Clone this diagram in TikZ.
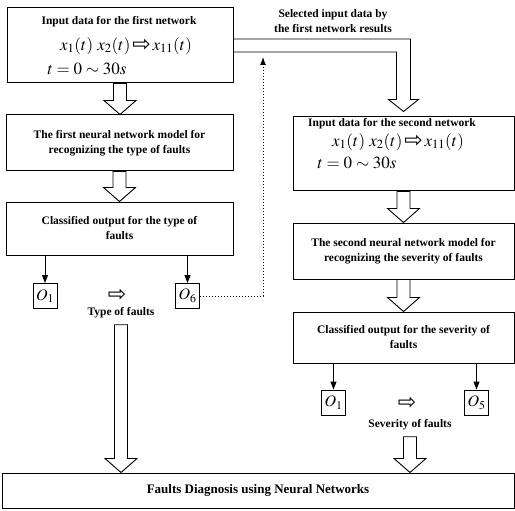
\documentclass[tikz,border=0pt]{standalone}
\usepackage{mathptmx}
\usepackage{fontspec}
\setmainfont{Liberation Serif}
\newfontfamily\symf{DejaVu Sans}
\usetikzlibrary{arrows.meta,calc}
\newcommand\hollowdown[2]{%
  \draw[line width=0.9pt] let \p1=(#1), \p2=(#2) in
  (\x1-6.5pt,\y1) -- (\x1-6.5pt,\y2+14pt) -- (\x1-16pt,\y2+14pt) -- (\x1,\y2)
  -- (\x1+16pt,\y2+14pt) -- (\x1+6.5pt,\y2+14pt) -- (\x1+6.5pt,\y1) -- cycle;}
\newcommand\hol{\raisebox{-1pt}{\symf\fontsize{22}{22}\selectfont ⇨}}
\begin{document}
\begin{tikzpicture}[x=1pt,y=-1pt,line width=1pt,
  box/.style={draw,line width=1pt,inner sep=0pt},
  txt/.style={font=\fontsize{11.5}{15}\selectfont\bfseries,align=center,inner sep=0pt},
  mth/.style={font=\fontsize{17}{17}\selectfont,inner sep=0pt},
  obox/.style={draw,line width=1pt,minimum width=24pt,minimum height=25pt,inner sep=0pt,font=\fontsize{16}{16}\selectfont},
  small/.style={-{Triangle[length=8pt,width=6pt]},line width=1pt}]
\useasboundingbox (0,0) rectangle (515,511);
% left column
\node[box,minimum width=226pt,minimum height=75pt] (b1) at (120,45.5) {};
\node[txt] (b1t) at (119,22) {Input data for the first network};
\node[mth] (b1m) at (126,46) {$x_1(t)\ x_2(t)\,\hol\,x_{11}(t)$};
\node[mth,anchor=west] (b1s) at (47,69) {$t=0\sim 30s$};
\node[box,minimum width=227pt,minimum height=56pt,txt] (b2) at (119.5,143) {The first neural network model for\\recognizing the type of faults};
\node[box,minimum width=227pt,minimum height=53pt,txt] (b3) at (119.5,228.5) {Classified output for the type of\\faults};
\node[obox] (o1l) at (45,296) {$O_1$};
\node[obox] (o6l) at (187.5,296) {$O_6$};
\node[inner sep=0pt] (al) at (117,295) {\hol};
\node[txt] (tl) at (121,313) {Type of faults};
% right column
\node[box,minimum width=221pt,minimum height=74pt] (b4) at (403.5,154) {};
\node[txt] (b4t) at (392,124) {Input data for the second network};
\node[mth] (b4m) at (398,142) {$x_1(t)\ x_2(t)\,\hol\,x_{11}(t)$};
\node[mth,anchor=west] (b4s) at (317,163) {$t=0\sim 30s$};
\node[box,minimum width=221pt,minimum height=56pt,txt] (b5) at (403.5,251) {The second neural network model for\\recognizing the severity of faults};
\node[box,minimum width=221pt,minimum height=51pt,txt] (b6) at (403.5,337.5) {Classified output for the severity of\\faults};
\node[obox] (o1r) at (333.5,402.5) {$O_1$};
\node[obox] (o5r) at (476.5,402.5) {$O_5$};
\node[inner sep=0pt] (ar) at (407,403) {\hol};
\node[txt] (sl) at (410,425) {Severity of faults};
% bottom
\node[box,minimum width=512pt,minimum height=35pt,font=\fontsize{13}{15}\selectfont\bfseries] (bot) at (258,490.5) {Faults Diagnosis using Neural Networks};
% label
\node[txt] (sel) at (333,21) {Selected input data by\\the first network results};
% hollow arrows
\hollowdown{b1.south}{b2.north}
\hollowdown{b2.south}{b3.north}
\hollowdown{b4.south}{b5.north}
\hollowdown{b5.south}{b6.north}
\hollowdown{$(tl.south)+(0,6)$}{bot.north}
\hollowdown{$(sl.south)+(0,6)$}{bot.north}
% pipe
\draw[line width=0.9pt] let \p1=(b1.east), \p2=(b4.north) in
  (\x1,\y1+6.5pt) -- (\x2+7pt,\y1+6.5pt) -- (\x2+7pt,\y2+17pt) -- (\x2+15pt,\y2+17pt)
  -- (\x2,\y2+5pt) -- (\x2-15pt,\y2+17pt) -- (\x2-7pt,\y2+17pt) -- (\x2-7pt,\y1-6.5pt) -- (\x1,\y1-6.5pt);
% small arrows
\draw[small] (b3.south -| o1l) -- (o1l.north);
\draw[small] (b3.south -| o6l) -- (o6l.north);
\draw[small] (b6.south -| o1r) -- (o1r.north);
\draw[small] (b6.south -| o5r) -- (o5r.north);
% dotted feedback
\coordinate (dc) at (263,57);
\draw[dotted,line width=1pt,-{Latex[length=8pt,width=6pt]}] (o6l.east) -| (dc);
\end{tikzpicture}
\end{document}
